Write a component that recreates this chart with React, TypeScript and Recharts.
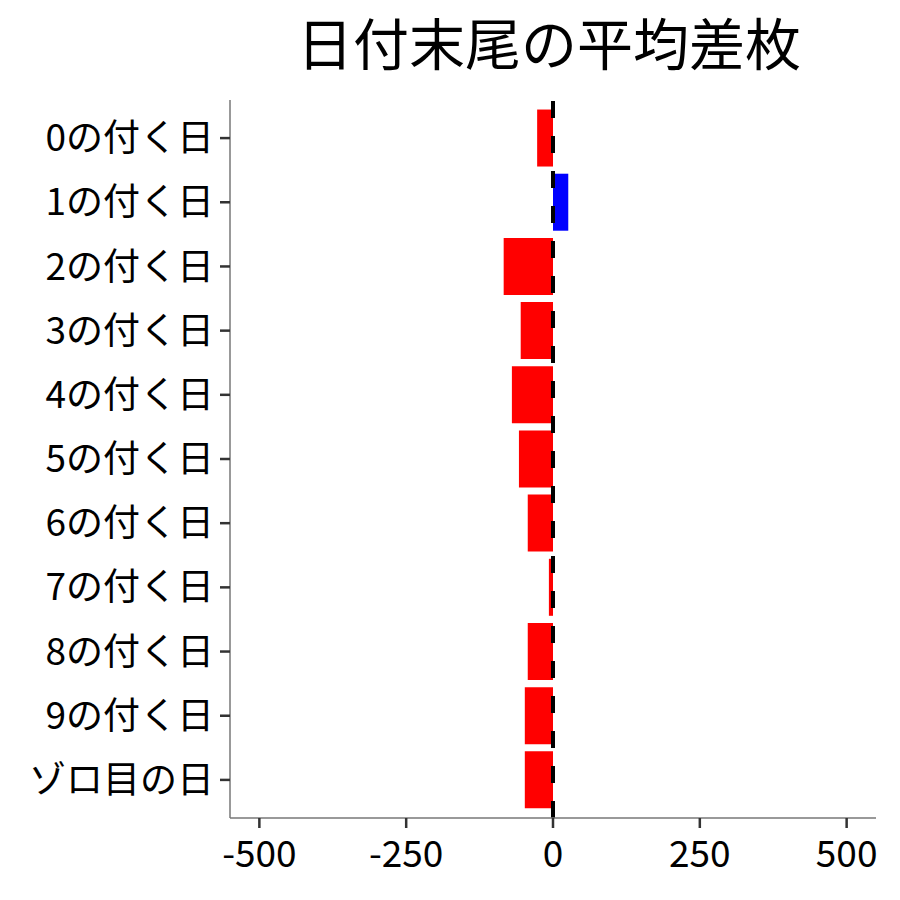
import { Bar, BarChart, Cell, ReferenceLine, XAxis, YAxis } from 'recharts'

const categories = [
	'0の付く日',
	'1の付く日',
	'2の付く日',
	'3の付く日',
	'4の付く日',
	'5の付く日',
	'6の付く日',
	'7の付く日',
	'8の付く日',
	'9の付く日',
	'ゾロ目の日',
]

const diffs = [-27, 26, -84, -55, -70, -58, -43, -7, -43, -48, -48]

const xTicks = [-500, -250, 0, 250, 500]

const FONT = '"Noto Sans CJK JP", "Noto Sans", sans-serif'

export default function App() {
	const data = categories.map((name, i) => ({ name, value: diffs[i] }))

	return (
		<div
			style={{
				position: 'absolute',
				left: 0,
				top: 0,
				width: 900,
				height: 900,
				background: '#fff',
				fontFamily: FONT,
			}}
		>
			<div
				style={{
					position: 'absolute',
					left: 226,
					width: 646,
					top: 6,
					textAlign: 'center',
					fontSize: 56,
					lineHeight: '70px',
					color: '#000',
				}}
			>
				日付末尾の平均差枚
			</div>
			<BarChart
				width={900}
				height={900}
				data={data}
				layout='vertical'
				margin={{ top: 100, right: 24, bottom: 0, left: 0 }}
				barCategoryGap='5.5%'
			>
				<XAxis
					type='number'
					domain={[-550, 550]}
					ticks={xTicks}
					height={82}
					axisLine={{ stroke: '#777', strokeWidth: 1.5 }}
					tickLine={{ stroke: '#333', strokeWidth: 2.5 }}
					tickSize={10}
					tickMargin={13}
					tick={{ fill: '#000', fontSize: 37, fontFamily: FONT }}
				/>
				<YAxis
					type='category'
					dataKey='name'
					width={230}
					padding={{ top: 6, bottom: 6 }}
					axisLine={{ stroke: '#777', strokeWidth: 1.5 }}
					tickLine={{ stroke: '#333', strokeWidth: 2.5 }}
					tickSize={10}
					tickMargin={6}
					tick={{ fill: '#000', fontSize: 37, fontFamily: FONT }}
				/>
				<Bar dataKey='value' isAnimationActive={false}>
					{data.map(d => (
						<Cell key={d.name} fill={d.value >= 0 ? '#0000ff' : '#ff0000'} />
					))}
				</Bar>
				<ReferenceLine
					x={0}
					stroke='#000'
					strokeWidth={4}
					strokeDasharray='17 18'
				/>
			</BarChart>
		</div>
	)
}
